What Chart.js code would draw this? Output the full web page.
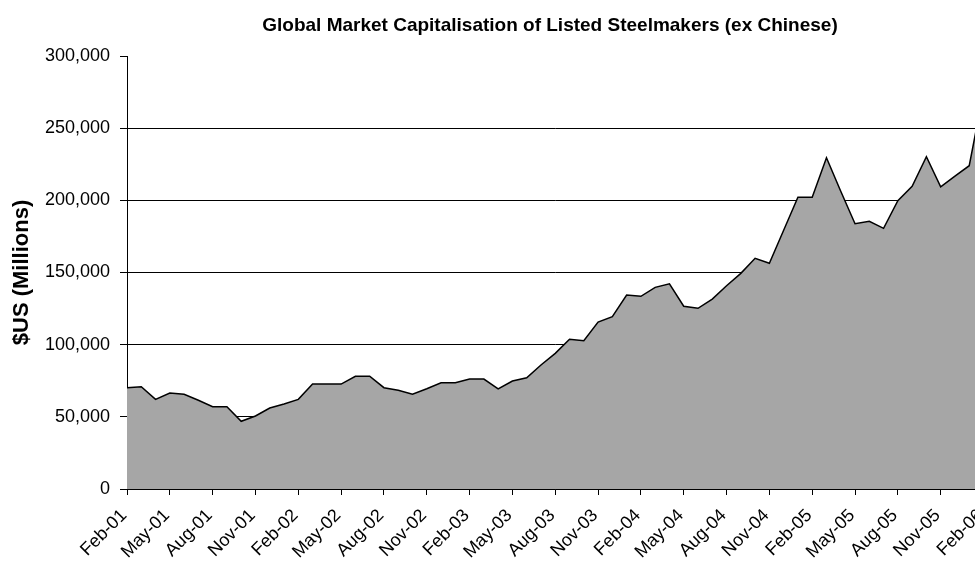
<!DOCTYPE html>
<html>
<head>
<meta charset="utf-8">
<title>Steelmakers market cap</title>
<script src="https://cdn.jsdelivr.net/npm/chart.js@4.4.1/dist/chart.umd.min.js"></script>
<style>
  html, body { margin: 0; padding: 0; background: #fff; overflow: hidden; }
  #wrap { width: 1100px; height: 563px; }
</style>
</head>
<body>
<div id="wrap"><canvas id="capChart" width="1100" height="563"></canvas></div>
<script>
// monthly, Feb-01 .. Feb-06
const months = [
  'Feb-01','Mar-01','Apr-01','May-01','Jun-01','Jul-01','Aug-01','Sep-01','Oct-01','Nov-01','Dec-01','Jan-02',
  'Feb-02','Mar-02','Apr-02','May-02','Jun-02','Jul-02','Aug-02','Sep-02','Oct-02','Nov-02','Dec-02','Jan-03',
  'Feb-03','Mar-03','Apr-03','May-03','Jun-03','Jul-03','Aug-03','Sep-03','Oct-03','Nov-03','Dec-03','Jan-04',
  'Feb-04','Mar-04','Apr-04','May-04','Jun-04','Jul-04','Aug-04','Sep-04','Oct-04','Nov-04','Dec-04','Jan-05',
  'Feb-05','Mar-05','Apr-05','May-05','Jun-05','Jul-05','Aug-05','Sep-05','Oct-05','Nov-05','Dec-05','Jan-06',
  'Feb-06'
];

// $US millions
const marketCap = [
  70200, 70900, 62100, 66500, 65600, 61500, 57000, 57000, 46900, 50600, 56100, 58900,
  62100, 72700, 72700, 72700, 78100, 78100, 70200, 68400, 65700, 69500, 73600, 73600,
  76200, 76200, 69300, 74800, 77100, 85900, 94000, 103700, 102700, 115700, 119400, 134400,
  133500, 139700, 142200, 126600, 125200, 131600, 140800, 149400, 159800, 156400, 179300, 202100,
  202100, 229500, 206300, 183800, 185500, 180600, 199700, 209700, 230200, 209400, 216800, 224000,
  275000
];

const yTicks = [0, 50000, 100000, 150000, 200000, 250000, 300000];

const chartTitle = 'Global Market Capitalisation of Listed Steelmakers (ex Chinese)';
const yTitle = '$US (Millions)';

Chart.defaults.font.family = '"Liberation Sans", Arial, Helvetica, sans-serif';
Chart.defaults.color = '#000';

new Chart(document.getElementById('capChart').getContext('2d'), {
  type: 'line',
  data: {
    labels: months,
    datasets: [{
      label: 'Market cap',
      data: marketCap,
      fill: 'origin',
      backgroundColor: '#a6a6a6',
      borderColor: '#000',
      borderWidth: 1.5,
      pointRadius: 0,
      tension: 0
    }]
  },
  options: {
    responsive: false,
    animation: false,
    layout: { padding: 0 },
    plugins: {
      legend: { display: false },
      tooltip: { enabled: false },
      title: {
        display: true,
        text: chartTitle,
        color: '#000',
        font: { size: 19, weight: 'bold' },
        padding: { top: 14, bottom: 19.2 }
      }
    },
    scales: {
      x: {
        type: 'category',
        offset: false,
        border: { display: true, color: '#000', width: 1 },
        grid: {
          drawOnChartArea: false,
          tickLength: 6,
          // tick marks only every third month
          color: ctx => (ctx.index % 3 === 0 ? '#000' : 'rgba(0,0,0,0)')
        },
        ticks: {
          autoSkip: false,
          minRotation: 45,
          maxRotation: 45,
          padding: 10,
          labelOffset: -3,
          font: { size: 18 },
          callback: function(val, i) { return i % 3 === 0 ? this.getLabelForValue(val) : ''; }
        },
        afterFit: s => { s.height = 74; }
      },
      y: {
        min: 0,
        max: 300000,
        border: { display: true, color: '#000', width: 1 },
        grid: {
          color: ctx => (ctx.tick && ctx.tick.value === 300000 ? 'rgba(0,0,0,0)' : '#000'),
          tickColor: '#000',
          tickLength: 7
        },
        afterBuildTicks: s => { s.ticks = yTicks.map(v => ({ value: v })); },
        ticks: {
          padding: 10,
          font: { size: 18 },
          callback: v => v.toLocaleString('en-US')
        },
        title: {
          display: true,
          text: yTitle,
          color: '#000',
          font: { size: 22, weight: 'bold' },
          padding: { top: 8.8, bottom: 0 }
        },
        afterFit: s => { s.width = 127; }
      },
      // empty strip on the right; the plot runs on past the page edge
      pad: {
        position: 'right',
        display: true,
        grid: { display: false },
        border: { display: false },
        ticks: { display: false },
        afterFit: s => { s.width = 116.5; }
      }
    }
  }
});
</script>
</body>
</html>
